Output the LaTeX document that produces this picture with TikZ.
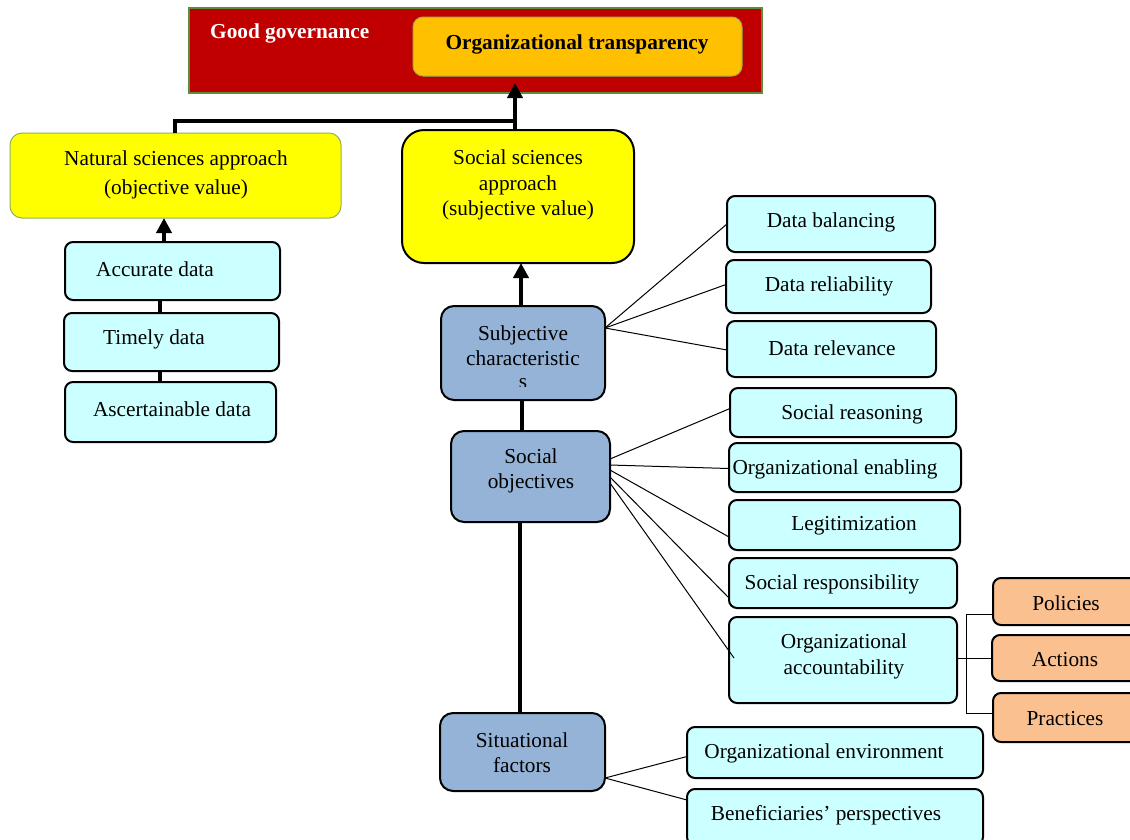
\documentclass[tikz,border=0pt]{standalone}
\usepackage{fontspec}
\setmainfont{Liberation Serif}
\usetikzlibrary{arrows.meta}
\definecolor{gred}{HTML}{C00000}
\definecolor{gorange}{HTML}{FFC000}
\definecolor{gyellow}{HTML}{FFFF00}
\definecolor{gcyan}{HTML}{CCFFFF}
\definecolor{gblue}{HTML}{95B3D7}
\definecolor{gpeach}{HTML}{FAC090}
\definecolor{ggreen}{HTML}{5E8C3A}
\definecolor{lgreen}{HTML}{8DB45A}
\newcommand\bx[7]{\node[#2, minimum width={#5pt-#3pt}, minimum height={#6pt-#4pt}] (#1) at ({(#3+#5)/2},{(#4+#6)/2}) {#7};}
\begin{document}
\begin{tikzpicture}[x=1pt,y=-1pt,
  font=\fontsize{21.3}{26}\selectfont,
  base/.style={inner sep=0pt, outer sep=0pt},
  banner/.style={base, draw=ggreen, line width=2pt, fill=gred},
  obox/.style={base, draw=lgreen, line width=1pt, fill=gorange, rounded corners=10pt},
  nbox/.style={base, draw=lgreen, line width=1pt, fill=gyellow, rounded corners=12pt},
  sbox/.style={base, draw=black, line width=2pt, fill=gyellow, rounded corners=22pt},
  bbox/.style={base, draw=black, line width=2pt, fill=gblue, rounded corners=13pt},
  cbox/.style={base, draw=black, line width=2pt, fill=gcyan, rounded corners=8pt},
  pbox/.style={base, draw=black, line width=2pt, fill=gpeach, rounded corners=8pt},
  txt/.style={inner sep=0pt, align=center},
  thk/.style={line width=4pt},
  arr/.style={line width=4pt, -{Triangle[width=15pt,length=15pt]}},
  thn/.style={line width=1pt}
]
\useasboundingbox (0,0) rectangle (1130,839);
\clip (0,0) rectangle (1130,839);
\fill[white] (0,0) rectangle (1130,839);

% top banner
\bx{ban}{banner}{189}{8}{762}{93}{}
\node[txt, text=white, font=\fontsize{21.3}{26}\selectfont\bfseries, anchor=west] (gg) at (210,33) {Good governance};
\bx{tra}{obox}{413}{17}{742}{76}{}
\node[txt, font=\fontsize{21.3}{26}\selectfont\bfseries] (trat) at (577,44) {Organizational transparency};

% natural sciences
\bx{nat}{nbox}{10}{133}{341}{218}{}
\node[txt, font=\fontsize{21.3}{29}\selectfont] (natt) at (176,175) {Natural sciences approach\\(objective value)};
\bx{acc}{cbox}{65}{242}{280}{300}{}
\node[txt] (acct) at (155,269) {Accurate data};
\bx{tim}{cbox}{64}{313}{279}{371}{}
\node[txt] (timt) at (154,339) {Timely data};
\bx{asc}{cbox}{65}{382}{276}{442}{}
\node[txt] (asct) at (172,409) {Ascertainable data};

% social sciences
\bx{soc}{sbox}{402}{130}{634}{263}{}
\node[txt, font=\fontsize{21.3}{25.5}\selectfont] (soct) at (518,185) {Social sciences\\approach\\(subjective value)};
\bx{sub}{bbox}{441}{306}{605}{400}{}
\node[txt, font=\fontsize{21.3}{25}\selectfont] (subt) at (523,346) {Subjective\\characteristic};
\begin{scope}
\clip (500,370) rectangle (550,386);
\node[txt] (subs) at (523,384) {s};
\end{scope}
\bx{obj}{bbox}{451}{431}{610}{522}{}
\node[txt, font=\fontsize{21.3}{25}\selectfont] (objt) at (531,471) {Social\\objectives};
\bx{sit}{bbox}{440}{713}{605}{791}{}
\node[txt, font=\fontsize{21.3}{25}\selectfont] (sitt) at (522,753) {Situational\\factors};

% data boxes
\bx{dba}{cbox}{727}{196}{935}{252}{}
\node[txt] (dbat) at (831,222) {Data balancing};
\bx{dre}{cbox}{726}{260}{931}{313}{}
\node[txt] (dret) at (829,286) {Data reliability};
\bx{drl}{cbox}{727}{321}{936}{377}{}
\node[txt] (drlt) at (832,348) {Data relevance};

% objective boxes
\bx{sre}{cbox}{730}{388}{956}{437}{}
\node[txt] (sret) at (852,414) {Social reasoning};
\bx{oen}{cbox}{729}{443}{961}{492}{}
\node[txt] (oent) at (835,469) {Organizational enabling};
\bx{leg}{cbox}{729}{500}{960}{550}{}
\node[txt] (legt) at (854,526) {Legitimization};
\bx{sres}{cbox}{729}{558}{957}{608}{}
\node[txt] (srest) at (832,584) {Social responsibility};
\bx{oac}{cbox}{729}{617}{957}{703}{}
\node[txt, font=\fontsize{21.3}{26}\selectfont] (oact) at (844,656) {Organizational\\accountability};

% peach boxes
\bx{pol}{pbox}{993}{578}{1140}{625}{}
\node[txt] (polt) at (1066,603) {Policies};
\bx{act}{pbox}{992}{635}{1140}{681}{}
\node[txt] (actt) at (1065,660) {Actions};
\bx{pra}{pbox}{993}{693}{1140}{742}{}
\node[txt] (prat) at (1065,719) {Practices};

% situational boxes
\bx{env}{cbox}{687}{727}{983}{778}{}
\node[txt] (envt) at (824,753) {Organizational environment};
\bx{ben}{cbox}{687}{789}{983}{845}{}
\node[txt] (bent) at (826,815) {Beneficiaries' perspectives};

% thick connectors
\coordinate (j) at (515,121);
\draw[thk] (nat.north -| 175,0) |- (j);
\draw[thk] (soc.north -| j) -- (j);
\draw[arr] (j) -- ([yshift=-7pt]j |- tra.south);
\draw[arr] (acc.north -| 164,0) -- (nat.south -| 164,0);
\draw[thk] (acc.south -| 160,0) -- (tim.north -| 160,0);
\draw[thk] (tim.south -| 160,0) -- (asc.north -| 160,0);
\draw[arr] (sub.north -| 521,0) -- (soc.south -| 521,0);
\draw[thk] (sub.south -| 522,0) -- (obj.north -| 522,0);
\draw[thk] (obj.south -| 520,0) -- (sit.north -| 520,0);

% thin connectors
\coordinate (s1) at (605,328);
\draw[thn] (s1) -- (dba.west);
\draw[thn] (s1) -- ([yshift=2pt]dre.west);
\draw[thn] (s1) -- ([yshift=-1pt]drl.west);
\draw[thn] (obj.east |- 0,459) -- ([yshift=4pt]sre.west);
\draw[thn] (obj.east |- 0,465) -- ([yshift=-1pt]oen.west);
\draw[thn] (obj.east |- 0,470) -- ([yshift=-12pt]leg.west);
\draw[thn] (obj.east |- 0,477) -- ([yshift=-15pt]sres.west);
\draw[thn] (obj.east |- 0,483) -- ([xshift=5pt,yshift=2pt]oac.west);
\coordinate (s2) at (605,778);
\draw[thn] (s2) -- ([yshift=-4pt]env.west);
\draw[thn] (s2) -- ([yshift=17pt]ben.west);

% bracket
\coordinate (bt) at (966,614);
\coordinate (bb) at (966,713);
\draw[thn] (pol.west |- bt) -- (bt) -- (bb) -- (pra.west |- bb);
\draw[thn] (oac.east |- act.west) -- (act.west);
\end{tikzpicture}
\end{document}
